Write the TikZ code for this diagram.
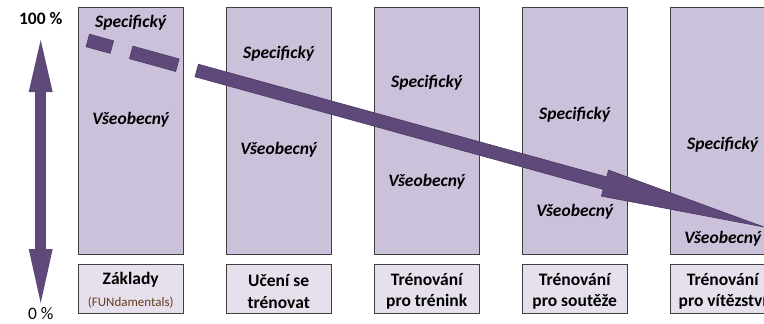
\documentclass[tikz,border=0pt]{standalone}
\usepackage{fontspec}
\setmainfont{Carlito}
\usepackage{tikz}
\usetikzlibrary{positioning,arrows.meta,calc}
\definecolor{colfill}{HTML}{CCC1DA}
\definecolor{stagefill}{HTML}{E6E0EC}
\definecolor{arrfill}{HTML}{5F497A}
\definecolor{arrline}{HTML}{4A3860}
\definecolor{frame}{HTML}{3F3F3F}
\definecolor{funbrown}{RGB}{100,62,30}

\begin{document}
\begin{tikzpicture}[
		x=1pt,y=-1pt,
		column/.style={
			draw=frame,
			fill=colfill,
			line width=1pt,
			minimum width=105pt,
			minimum height=247pt,
			inner sep=0pt,
			anchor=north west
		},
		stage/.style={
			draw=frame,
			fill=stagefill,
			line width=1pt,
			minimum width=105pt,
			minimum height=49pt,
			inner sep=0pt,
			anchor=north west
		},
		part/.style={font=\fontsize{17.5}{20}\selectfont\bfseries\itshape},
		stagetext/.style={font=\fontsize{17.5}{21.7}\selectfont\bfseries,align=center},
		pct/.style={font=\fontsize{17.5}{20}\selectfont},
		bigarrow/.style={fill=arrfill,draw=arrline,line width=0.6pt}
		]
		
		\useasboundingbox (0,0) rectangle (764,324);
		\clip (0,0) rectangle (764,324);
		
		% columns and stage boxes
		\foreach \i/\x in {1/77.7,2/225.7,3/373.7,4/521.7,5/669.7}{
			\node[column] (col\i) at (\x,7.3) {};
			\node[stage] (stage\i) at (\x,264.3) {};
		}
		
		% big arrow
		\coordinate (start) at (196.7,70.5);
		\coordinate (tip) at (764,227);
		\coordinate (base) at ($(tip)!165pt!(start)$);
		\filldraw[bigarrow] ($(start)!6.5pt!90:(tip)$) -- ($(base)!6.5pt!90:(tip)$)
		-- ($(base)!13.5pt!90:(tip)$) -- (tip) -- ($(base)!13.5pt!-90:(tip)$)
		-- ($(base)!6.5pt!-90:(tip)$) -- ($(start)!6.5pt!-90:(tip)$) -- cycle;
		\foreach \a/\b in {113/88,68/20}{
			\coordinate (da) at ($(start)!-\a pt!(tip)$);
			\coordinate (db) at ($(start)!-\b pt!(tip)$);
			\filldraw[bigarrow] ($(da)!6.5pt!90:(tip)$) -- ($(db)!6.5pt!90:(tip)$)
			-- ($(db)!6.5pt!-90:(tip)$) -- ($(da)!6.5pt!-90:(tip)$) -- cycle;
		}
		
		% texts in the columns
		\foreach \i/\s/\v in {1/22.7/120,2/53.3/150,3/83/182,4/115/211.7,5/145/239}{
			\node[part] (spec\i) at (col\i.north |- 0,\s) {Specifický};
			\node[part] (gen\i) at (col\i.north |- 0,\v) {Všeobecný};
		}
		
		% stage labels
		\node[stagetext] (base1) at (stage1.north |- 0,280) {Základy};
		\node[font=\fontsize{13}{15}\selectfont,text=funbrown] (fun) at (stage1.north |- 0,302.7) {(FUNdamentals)};
		\node[stagetext] (base2) at ($(stage2.center)+(0,2)$) {Učení se\\trénovat};
		\node[stagetext] (base3) at ($(stage3.center)+(0,2)$) {Trénování\\pro trénink};
		\node[stagetext] (base4) at ($(stage4.center)+(0,2)$) {Trénování\\pro soutěže};
		\node[stagetext] (base5) at ($(stage5.center)+(0,2)$) {Trénování\\pro vítězství};
		
		% percent scale
		\node[pct,font=\fontsize{17.5}{20}\selectfont\bfseries] (full) at (40.7,19) {100 \%};
		\node[pct] (zero) at (40.7,314) {0 \%};
		\coordinate (hi) at (40.7,40);
		\coordinate (lo) at (40.7,303);
		\draw[arrfill,line width=10.5pt,
		{Triangle[length=52pt,width=24pt,line width=0pt]}-{Triangle[length=54pt,width=24pt,line width=0pt]}]
		(hi) -- (lo);
		
	\end{tikzpicture}
\end{document}
